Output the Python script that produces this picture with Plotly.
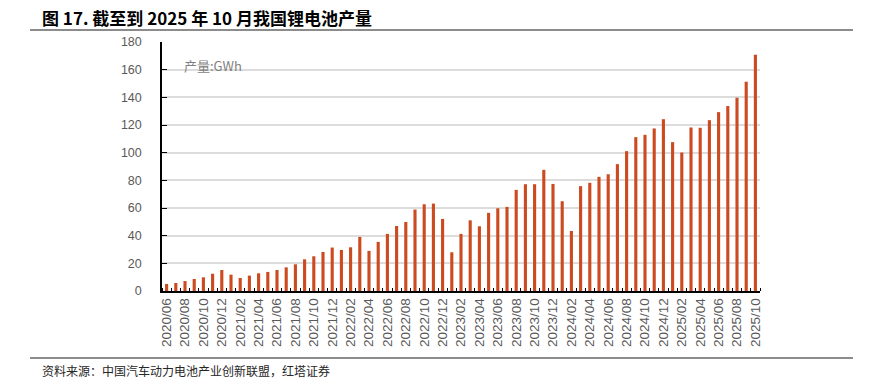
import plotly.graph_objects as go

months = []
for y in range(2020, 2026):
    for m in range(1, 13):
        if (y == 2020 and m < 6) or (y == 2025 and m > 10):
            continue
        months.append(f"{y}/{m:02d}")

output_gwh = [
    5.1, 5.8, 7.2, 8.7, 9.9, 12.5, 15.2,
    11.8, 9.4, 11.1, 12.8, 13.8, 15.2, 17.1, 19.3, 22.9, 25.1, 28.2, 31.4,
    29.7, 31.6, 39.1, 29.0, 35.5, 41.3, 47.0, 49.9, 58.9, 62.7, 63.2, 52.1,
    28.0, 41.3, 51.1, 46.8, 56.5, 59.8, 60.8, 73.1, 77.2, 77.2, 87.6, 77.4,
    64.9, 43.4, 75.8, 78.2, 82.5, 84.4, 91.7, 101.1, 111.2, 112.9, 117.5, 124.2,
    107.6, 100.1, 118.2, 118.0, 123.5, 129.3, 133.7, 139.7, 151.3, 170.8,
]

title_text = "图 17. 截至到 2025 年 10 月我国锂电池产量"
unit_text = "产量:GWh"
source_text = "资料来源：中国汽车动力电池产业创新联盟，红塔证券"

W, H = 872, 383
L, R, T, B = 162, 112, 42, 92
PW, PH = W - L - R, H - T - B

def px(x):
    return (x - L) / PW

def py(y):
    return (H - B - y) / PH

xs = list(range(len(months)))
tick_idx = xs[::2]
tick_txt = [months[i] for i in tick_idx]

fig = go.Figure(go.Bar(
    x=xs, y=output_gwh, width=0.34,
    marker=dict(color="#CC4A20", line=dict(width=0)),
    hoverinfo="x+y",
))

FONT = "Noto Sans CJK SC, Liberation Sans, Arial, sans-serif"
NUMFONT = "Liberation Sans, Arial, sans-serif"
fig.update_layout(
    width=W, height=H,
    margin=dict(l=L, r=R, t=T, b=B),
    plot_bgcolor="white", paper_bgcolor="white",
    showlegend=False,
    font=dict(family=FONT, color="#595959", size=12),
    xaxis=dict(
        range=[-0.5, len(months) - 0.5],
        tickmode="array", tickvals=tick_idx, ticktext=tick_txt,
        tickangle=-90, ticks="", showgrid=False, zeroline=False,
        showline=True, linecolor="black", linewidth=1.5,
        tickfont=dict(family=NUMFONT, size=13.5, color="#595959"),
        minor=dict(ticks="inside", tick0=-0.5, dtick=1, ticklen=3,
                   tickcolor="black", tickwidth=1, showgrid=False),
    ),
    yaxis=dict(
        range=[0, 180], dtick=20, tick0=0,
        ticks="inside", ticklen=5, tickcolor="black", tickwidth=1,
        showline=True, linecolor="black", linewidth=1.5,
        showgrid=True, gridcolor="#DCDCDC", gridwidth=1.5,
        zeroline=False,
        tickfont=dict(family=NUMFONT, size=12.5, color="#595959"),
        ticklabelstandoff=16,
    ),
    shapes=[
        dict(type="line", xref="paper", yref="paper",
             x0=px(30), x1=px(853), y0=py(30), y1=py(30),
             line=dict(color="#8C8C8C", width=2)),
        dict(type="line", xref="paper", yref="paper",
             x0=px(30), x1=px(853), y0=py(358), y1=py(358),
             line=dict(color="#8C8C8C", width=2)),
    ],
    annotations=[
        dict(text=f"<b>{title_text}</b>", xref="paper", yref="paper",
             x=px(40), y=py(17), xanchor="left", yanchor="middle",
             showarrow=False, font=dict(family=FONT, size=17, color="black")),
        dict(text=unit_text, xref="paper", yref="paper",
             x=px(182), y=py(65), xanchor="left", yanchor="middle",
             showarrow=False, font=dict(family=FONT, size=13, color="#7F7F7F")),
        dict(text=source_text, xref="paper", yref="paper",
             x=px(40), y=py(370), xanchor="left", yanchor="middle",
             showarrow=False, font=dict(family=FONT, size=12, color="#262626")),
    ],
)

fig.write_html(
    "out.html",
    config={"displayModeBar": False},
    post_script="document.body.style.margin='0';document.body.style.overflow='hidden';",
)
